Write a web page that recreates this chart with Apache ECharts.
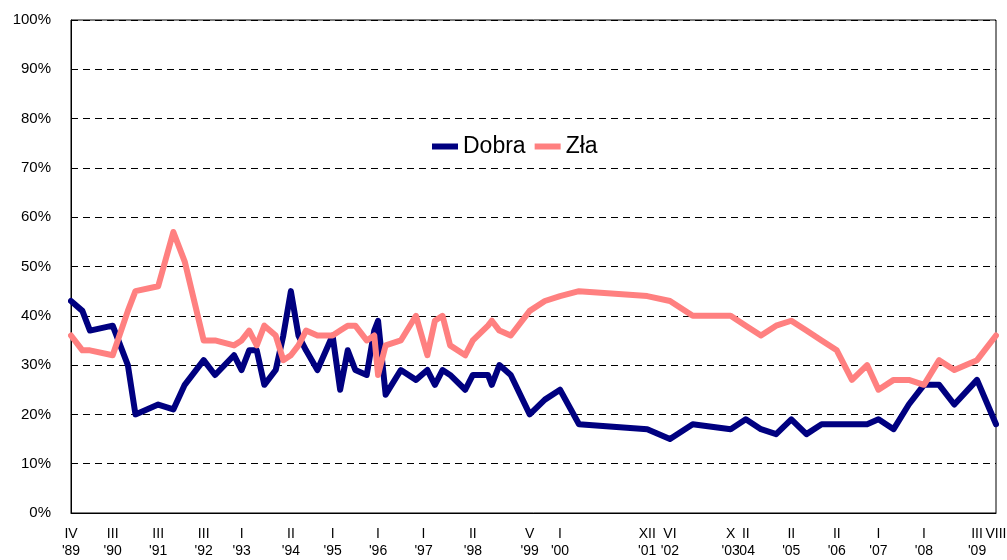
<!DOCTYPE html>
<html>
<head>
<meta charset="utf-8">
<script src="https://cdn.jsdelivr.net/npm/echarts@6/dist/echarts.min.js"></script>
<style>
html,body{margin:0;padding:0;background:#fff;}
#chart{width:1007px;height:560px;}
</style>
</head>
<body>
<div id="chart"></div>
<script>
// survey months (YYYY-MM) and values
var months = ['1989-04','1989-07','1989-09','1990-03','1990-07','1990-09','1991-03','1991-07','1991-10',
    '1992-03','1992-06','1992-11','1993-01','1993-03','1993-05','1993-07','1993-10','1993-12',
    '1994-02','1994-04','1994-06','1994-09','1995-01','1995-03','1995-05','1995-07','1995-10','1995-12',
    '1996-01','1996-03','1996-07','1996-11','1997-02','1997-04','1997-06','1997-08','1997-12',
    '1998-02','1998-06','1998-07','1998-09','1998-12','1999-05','1999-09','2000-01','2000-06',
    '2001-12','2002-06','2002-12','2003-10','2004-02','2004-06','2004-10','2005-02','2005-06','2005-10',
    '2006-02','2006-06','2006-10','2007-01','2007-05','2007-09','2008-01','2008-05','2008-09','2009-03','2009-08'];
var dobra = [43,41,37,38,30,20,22,21,26,
    31,28,32,29,33,33,26,29,36,
    45,36,33,29,36,25,33,29,28,37,
    39,24,29,27,29,26,29,28,25,
    28,28,26,30,28,20,23,25,18,
    17,15,18,17,19,17,16,19,16,18,
    18,18,18,19,17,22,26,26,22,27,18];
var zla = [36,33,33,32,41,45,46,57,51,
    35,35,34,35,37,34,38,36,31,
    32,34,37,36,36,37,38,38,35,36,
    28,34,35,40,32,39,40,34,32,
    35,38,39,37,36,41,43,44,45,
    44,43,40,40,38,36,38,39,37,35,
    33,27,30,25,27,27,26,31,29,31,36];

// x-axis tick labels: month and text shown under it
var tickMonths = ['1989-04','1990-03','1991-03','1992-03','1993-01','1994-02','1995-01','1996-01','1997-01',
    '1998-02','1999-05','2000-01','2001-12','2002-06','2003-10','2004-02','2005-02','2006-02','2007-01',
    '2008-01','2009-03'];
var tickTexts = ["IV\n'89","III\n'90","III\n'91","III\n'92","I\n'93","II\n'94","I\n'95","I\n'96","I\n'97",
    "II\n'98","V\n'99","I\n'00","XII\n'01","VI\n'02","X\n'03","II\n'04","II\n'05","II\n'06","I\n'07",
    "I\n'08","III\n'09"];
// last month gets its own label, drawn by a second axis so it is not hidden
var lastTick = '2009-08';
var lastText = 'VIII\n ';

// every month from first to last survey, as axis categories
var cats = [];
for (var y = 1989; y <= 2009; y++) {
    for (var m = 1; m <= 12; m++) {
        var s = y + '-' + (m < 10 ? '0' + m : m);
        if (s >= months[0] && s <= months[months.length - 1]) cats.push(s);
    }
}

function pairs(vals) {
    var arr = [];
    for (var i = 0; i < vals.length; i++) arr.push([months[i], vals[i]]);
    return arr;
}

var labelStyle = {color: '#000', fontSize: 14, lineHeight: 17, margin: 13};

var myChart = echarts.init(document.getElementById('chart'));
var option = {
    animation: false,
    textStyle: {fontFamily: 'Liberation Sans, Arial, sans-serif'},
    grid: {left: 71, right: 11, top: 20, bottom: 47, show: true, borderColor: '#000', borderWidth: 1,
        containLabel: false, outerBoundsMode: 'none'},
    legend: {
        left: 427,
        top: 130,
        icon: 'rect',
        itemWidth: 26,
        itemHeight: 6,
        itemGap: 9,
        textStyle: {fontSize: 23, color: '#000'},
        data: ['Dobra', 'Zła']
    },
    xAxis: [
        {
            type: 'category',
            boundaryGap: false,
            data: cats,
            axisLine: {lineStyle: {color: '#000', width: 1}},
            axisTick: {show: false},
            axisLabel: Object.assign({
                interval: function (i, v) { return tickMonths.indexOf(v) >= 0; },
                formatter: function (v) { return tickTexts[tickMonths.indexOf(v)] || ''; },
                showMinLabel: true,
                showMaxLabel: true,
                hideOverlap: false
            }, labelStyle),
            splitLine: {show: false}
        },
        {
            type: 'category',
            position: 'bottom',
            boundaryGap: false,
            data: cats,
            axisLine: {show: false},
            axisTick: {show: false},
            axisLabel: Object.assign({
                interval: function (i, v) { return v === lastTick; },
                formatter: function (v) { return v === lastTick ? lastText : ''; },
                showMinLabel: false,
                showMaxLabel: true
            }, labelStyle),
            splitLine: {show: false}
        }
    ],
    yAxis: {
        type: 'value',
        min: 0,
        max: 100,
        interval: 10,
        axisLine: {show: true, lineStyle: {color: '#000', width: 1}},
        axisTick: {show: false},
        axisLabel: {formatter: '{value}%', color: '#000', fontSize: 15, margin: 20},
        splitLine: {lineStyle: {color: '#000', width: 1, type: [7, 5]}}
    },
    series: [
        {
            name: 'Dobra',
            type: 'line',
            symbol: 'none',
            data: pairs(dobra),
            itemStyle: {color: '#000080'},
            lineStyle: {color: '#000080', width: 6, join: 'round', cap: 'round'}
        },
        {
            name: 'Zła',
            type: 'line',
            symbol: 'none',
            data: pairs(zla),
            itemStyle: {color: '#FF8080'},
            lineStyle: {color: '#FF8080', width: 6, join: 'round', cap: 'round'}
        }
    ]
};
myChart.setOption(option);
</script>
</body>
</html>
